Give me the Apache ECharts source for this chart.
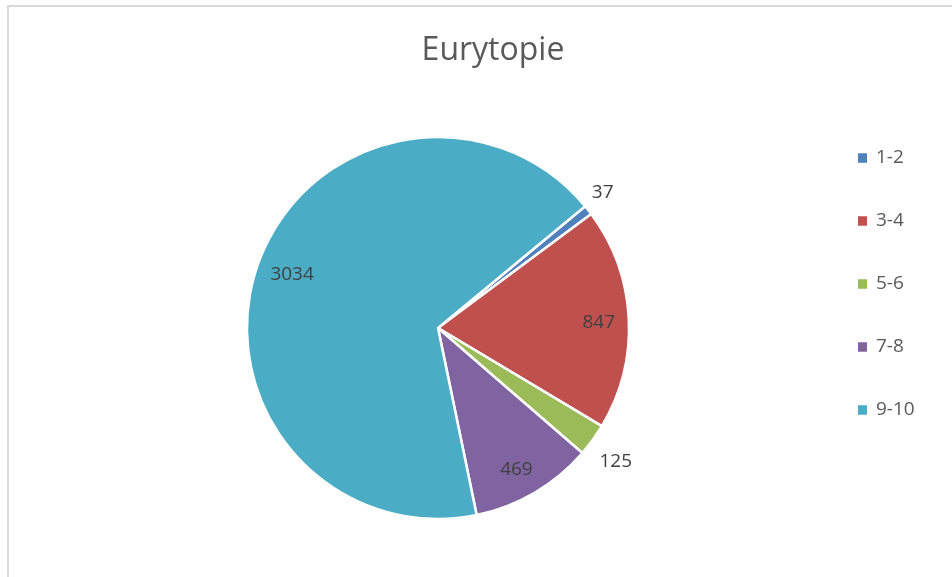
<!DOCTYPE html>
<html>
<head>
<meta charset="utf-8">
<script src="https://cdn.jsdelivr.net/npm/echarts@6/dist/echarts.min.js"></script>
<style>
  html, body { margin: 0; padding: 0; background: #fff; }
  #chart { width: 952px; height: 577px; }
</style>
</head>
<body>
<div id="chart"></div>
<script>
// Eurytopie classes and their counts
const categories = ['1-2', '3-4', '5-6', '7-8', '9-10'];
const counts = [37, 847, 125, 469, 3034];
const colors = ['#4F81BD', '#C0504D', '#9BBB59', '#8064A2', '#4BACC6'];
// Small slices carry their label outside the pie, the others inside
const outsideLabel = [true, false, true, false, false];
// fine nudges of each value label
const labelNudge = [[-6, -1], [0, 3], [2, 6], [-3, 3], [6, 0]];

const FONT = '"Open Sans", "Liberation Sans", sans-serif';
const CENTER = [438, 328];
const START = 39.6;

const sliceData = categories.map((name, i) => ({
  name, value: counts[i], itemStyle: { color: colors[i] }
}));

// transparent ring used only to place a subset of labels at the ring's mid radius
function labelRing(radius, showFn) {
  return {
    type: 'pie',
    silent: true,
    center: CENTER,
    radius: radius,
    startAngle: START,
    clockwise: true,
    avoidLabelOverlap: false,
    itemStyle: { color: 'rgba(0,0,0,0)', borderWidth: 0 },
    label: { show: false },
    labelLine: { show: false },
    data: categories.map((name, i) => ({
      name, value: counts[i],
      label: {
        show: showFn(i),
        position: 'inside',
        formatter: '{c}',
        color: '#404040',
        fontFamily: FONT,
        fontSize: 19,
        offset: labelNudge[i]
      }
    }))
  };
}

const chart = echarts.init(document.getElementById('chart'), null, { renderer: 'canvas' });
chart.setOption({
  backgroundColor: '#ffffff',
  animation: false,
  title: {
    text: 'Eurytopie',
    left: 488,
    top: 30,
    textAlign: 'center',
    textStyle: { color: '#595959', fontFamily: FONT, fontSize: 32, fontWeight: 'normal' }
  },
  legend: {
    orient: 'vertical',
    left: 856,
    top: 148,
    padding: 0,
    itemWidth: 11,
    itemHeight: 11.5,
    itemGap: 43,
    icon: 'rect',
    selectedMode: false,
    textStyle: { color: '#595959', fontFamily: FONT, fontSize: 19, lineHeight: 20, padding: [0, 0, 0, 3] },
    data: categories.map((name, i) => ({ name, itemStyle: { color: colors[i] } }))
  },
  graphic: [{
    type: 'rect',
    shape: { x: 8, y: 6, width: 980, height: 620 },
    style: { fill: 'none', stroke: '#d9d9d9', lineWidth: 2 },
    silent: true,
    z: -1
  }],
  series: [
    {
      type: 'pie',
      center: CENTER,
      radius: 191,
      startAngle: START,
      clockwise: true,
      label: { show: false },
      labelLine: { show: false },
      itemStyle: { borderColor: '#ffffff', borderWidth: 2.5 },
      data: sliceData
    },
    labelRing([122, 194], i => !outsideLabel[i]),
    labelRing([190, 238], i => outsideLabel[i])
  ]
});
</script>
</body>
</html>
